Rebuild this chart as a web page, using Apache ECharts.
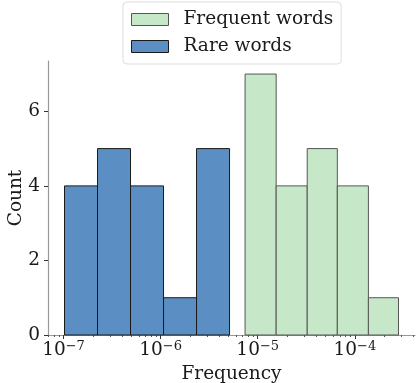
<!DOCTYPE html>
<html>
<head>
<meta charset="utf-8">
<script src="https://cdn.jsdelivr.net/npm/echarts@6/dist/echarts.min.js"></script>
<style>
  html, body { margin: 0; padding: 0; background: #fff; }
  #main { width: 416px; height: 383px; }
</style>
</head>
<body>
<div id="main"></div>
<script>
// bin edges are log10(frequency)
const rareEdges = [-6.99, -6.65, -6.31, -5.97, -5.63, -5.29];
const rareCounts = [4, 5, 4, 1, 5];
const frequentEdges = [-5.13, -4.81, -4.49, -4.18, -3.86, -3.55];
const frequentCounts = [7, 4, 5, 4, 1];
const xDecades = [-7, -6, -5, -4];
const yTicks = [0, 2, 4, 6];

const font = 'DejaVu Serif';
const fs = 18.5;
const colorRare = '#5b8fc3';
const colorFreq = '#c6e8c8';

function toBins(edges, counts) {
    let out = [];
    for (let i = 0; i < counts.length; i++) {
        out.push([edges[i], edges[i + 1], counts[i]]);
    }
    return out;
}

let minorTicks = [];
for (let d = -8; d <= -3; d++) {
    for (let k = 2; k <= 9; k++) {
        let v = d + Math.log10(k);
        if (v > -7.16 && v < -3.38) minorTicks.push(v);
    }
}

function renderBin(params, api) {
    let p0 = api.coord([api.value(0), api.value(2)]);
    let p1 = api.coord([api.value(1), 0]);
    return {
        type: 'rect',
        shape: { x: p0[0], y: p0[1], width: p1[0] - p0[0], height: p1[1] - p0[1] },
        style: api.style()
    };
}

function decadeLabel(v) {
    let e = String(Math.round(v)).replace('-', '\u2212');
    return '{b|10}{s|' + e + '}';
}

let myChart = echarts.init(document.getElementById('main'));
const option = {
    animation: false,
    grid: { left: 48, right: 1, top: 61, bottom: 48, containLabel: false, outerBoundsMode: 'none' },
    legend: {
        orient: 'vertical',
        left: 123,
        top: 2,
        padding: [8, 8, 8, 8],
        itemWidth: 37,
        itemHeight: 12,
        itemGap: 8,
        borderColor: '#dddddd',
        borderWidth: 1,
        borderRadius: 4,
        textStyle: { fontFamily: font, fontSize: fs, color: '#1a1a1a', padding: [0, 0, 0, 10] },
        data: [
            { name: 'Frequent words', icon: 'rect', itemStyle: { color: colorFreq, borderColor: '#555555', borderWidth: 1 } },
            { name: 'Rare words', icon: 'rect', itemStyle: { color: colorRare, borderColor: '#1a1a1a', borderWidth: 1 } }
        ]
    },
    xAxis: [{
        type: 'value',
        min: -7.16,
        max: -3.38,
        name: 'Frequency',
        nameLocation: 'middle',
        nameGap: 30,
        nameMoveOverlap: false,
        nameTextStyle: { fontFamily: font, fontSize: fs, color: '#1a1a1a' },
        splitLine: { show: false },
        axisLine: { lineStyle: { color: '#999999', width: 1.2 } },
        axisTick: { customValues: xDecades, length: 4, lineStyle: { color: '#333333' } },
        axisLabel: {
            customValues: xDecades,
            formatter: decadeLabel,
            margin: 5,
            rich: {
                b: { fontFamily: font, fontSize: fs, color: '#1a1a1a', verticalAlign: 'bottom', lineHeight: 20 },
                s: { fontFamily: font, fontSize: 13, color: '#1a1a1a', verticalAlign: 'top', lineHeight: 20 }
            }
        }
    }, {
        type: 'value',
        min: -7.16,
        max: -3.38,
        position: 'bottom',
        splitLine: { show: false },
        axisLine: { show: false },
        axisLabel: { show: false },
        axisTick: { customValues: minorTicks, length: 2, lineStyle: { color: '#555555' } }
    }],
    yAxis: {
        type: 'value',
        min: 0,
        max: 7.35,
        name: 'Count',
        nameLocation: 'middle',
        nameGap: 22,
        nameMoveOverlap: false,
        nameTextStyle: { fontFamily: font, fontSize: fs, color: '#1a1a1a' },
        splitLine: { show: false },
        axisLine: { show: true, lineStyle: { color: '#999999', width: 1.2 } },
        axisTick: { show: true, customValues: yTicks, length: 4, lineStyle: { color: '#333333' } },
        axisLabel: { customValues: yTicks, fontFamily: font, fontSize: fs, color: '#1a1a1a', margin: 8 }
    },
    series: [{
        name: 'Rare words',
        type: 'custom',
        renderItem: renderBin,
        encode: { x: [0, 1], y: 2 },
        itemStyle: { color: colorRare, borderColor: '#1a1a1a', borderWidth: 1 },
        data: toBins(rareEdges, rareCounts)
    }, {
        name: 'Frequent words',
        type: 'custom',
        renderItem: renderBin,
        encode: { x: [0, 1], y: 2 },
        itemStyle: { color: colorFreq, borderColor: '#555555', borderWidth: 1 },
        data: toBins(frequentEdges, frequentCounts)
    }]
};
myChart.setOption(option);
window.addEventListener('resize', function () {
    myChart.resize();
});
</script>
</body>
</html>
